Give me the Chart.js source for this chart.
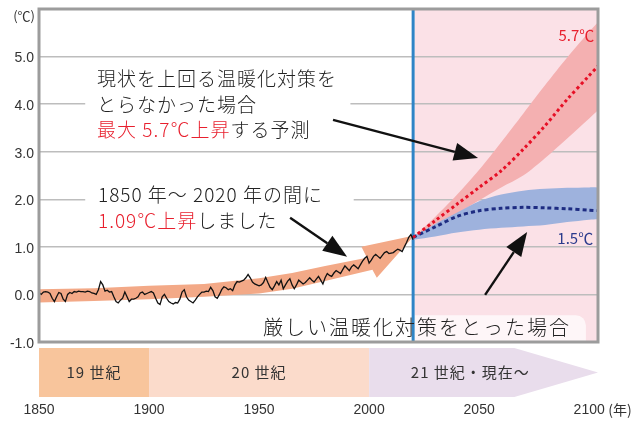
<!DOCTYPE html>
<html><head><meta charset="utf-8">
<script src="https://cdn.jsdelivr.net/npm/chart.js@4.4.1/dist/chart.umd.min.js"></script>
<style>html,body{margin:0;padding:0;background:#fff}#wrap{width:632px;height:422px;position:relative}</style>
</head><body><div id="wrap"><canvas id="c"></canvas></div>
<script>
// ---- data ----
const obsStartYear = 1850;
const obsValues = [
 0.04,0.00,0.05,0.06,0.05,0.02,-0.08,-0.15,-0.05,0.04,
 0.02,-0.10,-0.15,0.00,0.04,0.02,0.06,0.05,0.07,0.06,
 0.06,0.05,0.07,0.06,0.03,0.02,0.00,0.10,0.27,0.20,
 0.07,0.09,0.05,0.06,-0.05,-0.15,-0.18,-0.12,-0.08,0.05,
 -0.05,-0.15,-0.10,-0.10,-0.08,-0.05,0.03,0.05,0.00,0.02,
 0.04,0.06,0.03,-0.08,-0.18,-0.21,-0.05,0.00,-0.08,-0.15,
 -0.18,-0.20,-0.17,-0.18,-0.10,0.05,0.10,-0.05,-0.12,-0.15,
 -0.18,-0.12,-0.05,0.00,0.05,0.05,0.07,0.06,0.15,0.08,
 -0.05,-0.08,0.00,0.10,0.16,0.14,0.10,0.12,0.08,0.20,
 0.27,0.26,0.28,0.30,0.35,0.42,0.35,0.26,0.22,0.20,
 0.18,0.20,0.25,0.36,0.25,0.15,0.10,0.18,0.27,0.20,
 0.30,0.12,0.20,0.28,0.33,0.20,0.12,0.20,0.30,0.26,
 0.22,0.25,0.30,0.35,0.30,0.26,0.32,0.38,0.30,0.22,
 0.35,0.44,0.40,0.38,0.45,0.50,0.47,0.44,0.52,0.60,
 0.55,0.50,0.58,0.62,0.58,0.54,0.62,0.70,0.76,0.80,
 0.66,0.72,0.80,0.84,0.80,0.76,0.82,0.88,0.90,0.86,
 0.87,0.88,0.92,0.95,0.93,0.90,1.00,1.09,1.20,1.26,
 1.15
];
const nowYear = 2020;
const projYears  = [2020, 2030, 2040, 2050, 2060, 2070, 2080, 2090, 2100, 2104];
const redUpper   = [1.20, 1.63, 2.10, 2.62, 3.20, 3.80, 4.40, 4.98, 5.52, 5.72];
const redMid     = [1.20, 1.55, 1.90, 2.25, 2.60, 3.05, 3.55, 4.10, 4.60, 4.80];
const redLower   = [1.20, 1.42, 1.70, 1.98, 2.25, 2.50, 2.87, 3.28, 3.70, 3.87];
const blueUpper  = [1.22, 1.48, 1.72, 1.96, 2.10, 2.18, 2.22, 2.24, 2.25, 2.25];
const blueMid    = [1.20, 1.42, 1.64, 1.76, 1.81, 1.83, 1.82, 1.80, 1.77, 1.76];
const blueLower  = [1.15, 1.22, 1.30, 1.36, 1.40, 1.43, 1.46, 1.52, 1.57, 1.58];
// orange trend arrow (shaft edges + head)
const shaftUpperYears = [1850, 1875, 1900, 1925, 1950, 1965, 1980, 1999];
const shaftUpperVals  = [0.11, 0.13, 0.18, 0.22, 0.34, 0.45, 0.60, 0.77];
const shaftLowerYears = [1850, 1875, 1900, 1925, 1950, 1965, 1980, 2001.5];
const shaftLowerVals  = [-0.17, -0.14, -0.10, -0.05, 0.02, 0.12, 0.28, 0.52];
const headYears = [1996.5, 2020.5, 2003.5];
const headVals  = [1.00, 1.24, 0.35];
// annotation arrows [x0,y0,x1,y1]
const noteArrows = [
  [1983.6, 3.67, 2049.5, 2.87],
  [1964.1, 1.61, 1990.0, 0.79],
  [2052.7, -0.01, 2071.8, 1.31]
];
// timeline
const centuryLabels = ['19 世紀', '20 世紀', '21 世紀・現在～'];
const centuryStart  = [1850, 1900, 2000];
const centuryEnd    = [1900, 2000, 2066];
const centuryLabelX = [1875, 1950, 2046];
const timelineTip = 2104;
const xTickVals = [1850, 1900, 1950, 2000, 2050, 2100];
const yMin = -1, yMax = 6;

// ---- helpers ----
const pts = (xs, ys) => xs.map((x, i) => ({x, y: ys[i]}));
const RED = '#E8202E', INK = '#222';
const JP = '"Noto Sans CJK JP", "Noto Sans", sans-serif';

function runs(ctx, x, y, parts) {
  let cx = x;
  for (const p of parts) { ctx.fillStyle = p.c; ctx.fillText(p.t, cx, y); cx += ctx.measureText(p.t).width; }
}
function arrow(ctx, x0, y0, x1, y1) {
  const ang = Math.atan2(y1 - y0, x1 - x0), L = 24, W = 9;
  const bx = x1 - L * Math.cos(ang), by = y1 - L * Math.sin(ang);
  ctx.beginPath(); ctx.moveTo(x0, y0); ctx.lineTo(bx, by);
  ctx.lineWidth = 2.4; ctx.strokeStyle = '#111'; ctx.stroke();
  ctx.beginPath(); ctx.moveTo(x1, y1);
  ctx.lineTo(bx + W * Math.sin(ang), by - W * Math.cos(ang));
  ctx.lineTo(bx - W * Math.sin(ang), by + W * Math.cos(ang));
  ctx.closePath(); ctx.fillStyle = '#111'; ctx.fill();
}

const deco = {
  id: 'deco',
  beforeDraw(c) {
    const {ctx, chartArea: a, scales: {x}} = c;
    ctx.save();
    const x0 = x.getPixelForValue(nowYear) + 1.5;
    ctx.fillStyle = '#FBE1E7';
    ctx.fillRect(x0, a.top, a.right - x0, a.bottom - a.top);
    ctx.restore();
  },
  beforeDatasetsDraw(c) {
    const {ctx, chartArea: a, scales: {x, y}} = c;
    ctx.save();
    // white boxes behind notes
    ctx.fillStyle = '#fff';
    ctx.fillRect(x.getPixelForValue(1871), y.getPixelForValue(4.8), x.getPixelForValue(1991.5) - x.getPixelForValue(1871), y.getPixelForValue(3.3) - y.getPixelForValue(4.8));
    ctx.fillRect(x.getPixelForValue(1871), y.getPixelForValue(2.3), x.getPixelForValue(1993) - x.getPixelForValue(1871), y.getPixelForValue(1.3) - y.getPixelForValue(2.3));
    // orange arrow
    ctx.beginPath();
    shaftUpperYears.forEach((yr, i) => { const px = x.getPixelForValue(yr), py = y.getPixelForValue(shaftUpperVals[i]); i ? ctx.lineTo(px, py) : ctx.moveTo(px, py); });
    headYears.forEach((yr, i) => ctx.lineTo(x.getPixelForValue(yr), y.getPixelForValue(headVals[i])));
    for (let i = shaftLowerYears.length - 1; i >= 0; i--) ctx.lineTo(x.getPixelForValue(shaftLowerYears[i]), y.getPixelForValue(shaftLowerVals[i]));
    ctx.closePath();
    ctx.fillStyle = '#F3A987'; ctx.fill();
    // bottom note box
    const bx0 = x.getPixelForValue(1948), bx1 = x.getPixelForValue(2098.5), by0 = y.getPixelForValue(-0.44);
    ctx.beginPath();
    ctx.roundRect(bx0, by0, bx1 - bx0, a.bottom - by0 + 4, [10, 10, 0, 0]);
    ctx.fillStyle = 'rgba(255,255,255,0.7)'; ctx.fill();
    // current year line
    const xn = x.getPixelForValue(nowYear);
    ctx.beginPath(); ctx.moveTo(xn, a.top); ctx.lineTo(xn, a.bottom);
    ctx.lineWidth = 3; ctx.strokeStyle = '#2F84C6'; ctx.stroke();
    ctx.restore();
  },
  afterDatasetsDraw(c) {
    const {ctx, scales: {x, y}} = c;
    ctx.save();
    noteArrows.forEach(r => arrow(ctx, x.getPixelForValue(r[0]), y.getPixelForValue(r[1]), x.getPixelForValue(r[2]), y.getPixelForValue(r[3])));
    ctx.textBaseline = 'middle'; ctx.textAlign = 'left';
    ctx.font = '300 19px ' + JP; ctx.letterSpacing = '1px';
    const tx = x.getPixelForValue(1876.4);
    runs(ctx, tx, y.getPixelForValue(4.53), [{t: '現状を上回る温暖化対策を', c: INK}]);
    runs(ctx, tx, y.getPixelForValue(3.98), [{t: 'とらなかった場合', c: INK}]);
    runs(ctx, tx, y.getPixelForValue(3.456), [{t: '最大 5.7℃上昇', c: RED}, {t: 'する予測', c: INK}]);
    const tx2 = x.getPixelForValue(1876.8);
    runs(ctx, tx2, y.getPixelForValue(2.09), [{t: '1850 年～ 2020 年の間に', c: INK}]);
    runs(ctx, tx2, y.getPixelForValue(1.544), [{t: '1.09℃上昇', c: RED}, {t: 'しました', c: INK}]);
    ctx.font = '300 20px ' + JP; ctx.letterSpacing = '2px';
    runs(ctx, x.getPixelForValue(1951.8), y.getPixelForValue(-0.685), [{t: '厳しい温暖化対策をとった場合', c: INK}]);
    ctx.letterSpacing = '0px';
    ctx.textAlign = 'right'; ctx.font = '15px ' + JP;
    ctx.fillStyle = RED; ctx.fillText('5.7℃', x.getPixelForValue(2102.3), y.getPixelForValue(5.45));
    ctx.fillStyle = '#2A3A8C'; ctx.fillText('1.5℃', x.getPixelForValue(2101.8), y.getPixelForValue(1.186));
    ctx.restore();
  },
  afterDraw(c) {
    const {ctx, chartArea: a, scales: {x, y}} = c;
    ctx.save();
    ctx.lineWidth = 3; ctx.strokeStyle = '#9C9C9C';
    ctx.strokeRect(a.left, a.top, a.right - a.left, a.bottom - a.top);
    // timeline
    const t0 = a.bottom + 6, t1 = a.bottom + 55, tm = (t0 + t1) / 2;
    const cols = ['#F8C59C', '#FBDBCB', '#E9DDEC'];
    centuryStart.forEach((s, i) => {
      const px0 = x.getPixelForValue(s), px1 = x.getPixelForValue(centuryEnd[i]);
      ctx.fillStyle = cols[i];
      ctx.beginPath();
      ctx.moveTo(px0, t0); ctx.lineTo(px1, t0);
      if (i === centuryStart.length - 1) ctx.lineTo(x.getPixelForValue(timelineTip), tm);
      ctx.lineTo(px1, t1); ctx.lineTo(px0, t1); ctx.closePath(); ctx.fill();
    });
    ctx.font = '15px ' + JP; ctx.fillStyle = '#333'; ctx.textAlign = 'center'; ctx.textBaseline = 'middle';
    ctx.letterSpacing = '1px';
    centuryLabels.forEach((l, i) => ctx.fillText(l, x.getPixelForValue(centuryLabelX[i]), tm));
    ctx.letterSpacing = '0px';
    // unit labels
    ctx.font = '13px ' + JP; ctx.fillStyle = '#333';
    ctx.textAlign = 'right'; ctx.fillText('(℃)', a.left - 4, y.getPixelForValue(5.85));
    ctx.textAlign = 'left'; ctx.font = '14px ' + JP; ctx.fillText('(年)', x.getPixelForValue(2100) + 19, a.bottom + 68);
    ctx.restore();
  }
};

const band = (data, color, fill, order) => ({data, fill, backgroundColor: color, borderColor: 'transparent', borderWidth: 0, pointRadius: 0, order});

new Chart(document.getElementById('c'), {
  type: 'line',
  data: {
    datasets: [
      {label: 'observed', data: obsValues.map((v, i) => ({x: obsStartYear + i, y: v})), borderColor: '#111', borderWidth: 1.3, pointRadius: 0, fill: false, order: 0},
      {label: 'redMid', data: pts(projYears, redMid), borderColor: '#E60F25', borderWidth: 3, borderDash: [3, 3], pointRadius: 0, fill: false, order: 1, tension: 0.3},
      {label: 'blueMid', data: pts(projYears, blueMid), borderColor: '#1E2C82', borderWidth: 3, borderDash: [4, 3], pointRadius: 0, fill: false, order: 1, tension: 0.3},
      Object.assign(band(pts(projYears, blueUpper), '#9EB2DD', '+1', 2), {tension: 0.3}),
      Object.assign(band(pts(projYears, blueLower), 'transparent', false, 2), {tension: 0.3}),
      Object.assign(band(pts(projYears, redUpper), '#F4B0B1', '+1', 3), {tension: 0.3}),
      Object.assign(band(pts(projYears, redLower), 'transparent', false, 3), {tension: 0.3})
    ]
  },
  options: {
    responsive: true, maintainAspectRatio: false, animation: false,
    layout: {padding: {top: 9, right: 34, left: 0, bottom: 0}},
    plugins: {legend: {display: false}, tooltip: {enabled: false}},
    scales: {
      x: {
        type: 'linear', min: 1850, max: 2104,
        grid: {display: false, drawTicks: false}, border: {display: false},
        afterBuildTicks: s => { s.ticks = xTickVals.map(v => ({value: v})); },
        afterFit: s => { s.height = 80; s.paddingLeft = 0; s.paddingRight = 0; },
        ticks: {padding: 60, color: '#333', font: {family: '"Liberation Sans"', size: 14}, maxRotation: 0, autoSkip: false, callback: v => String(v)}
      },
      y: {
        min: yMin, max: yMax,
        grid: {color: '#BDBDBD', lineWidth: 1.5, drawTicks: false}, border: {display: false},
        afterFit: s => { s.width = 39; s.paddingTop = 0; s.paddingBottom = 0; },
        ticks: {stepSize: 1, padding: 5, labelOffset: 2, color: '#333', font: {family: '"Liberation Sans"', size: 14}, callback: v => v === yMax ? '' : v.toFixed(1)}
      }
    }
  },
  plugins: [deco]
});
</script></body></html>
